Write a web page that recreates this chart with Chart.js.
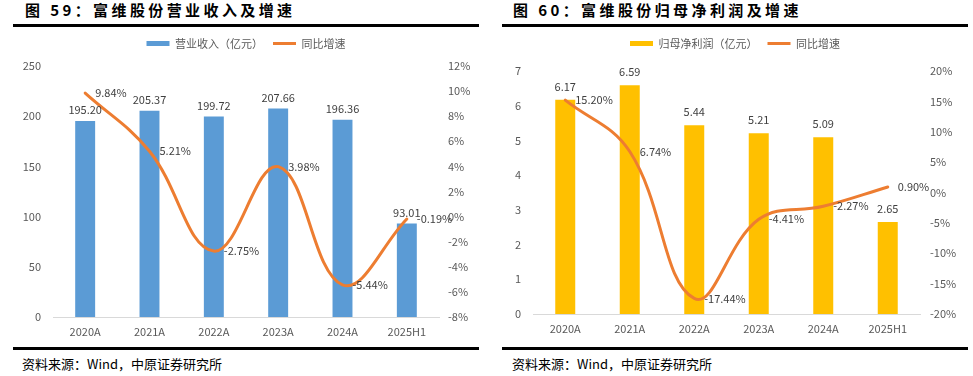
<!DOCTYPE html>
<html>
<head>
<meta charset="utf-8">
<script src="https://cdn.jsdelivr.net/npm/chart.js@4.4.1/dist/chart.umd.min.js"></script>
<style>
  html, body { margin:0; padding:0; background:#fff; }
  body { width:973px; height:376px; position:relative; overflow:hidden; font-family:"Noto Sans CJK SC", sans-serif; }
  .title { position:absolute; top:0px; font-size:15px; font-weight:700; letter-spacing:3.4px; line-height:20px; color:#000; white-space:nowrap; }
  .rule { position:absolute; height:3px; background:#000; }
  .src { position:absolute; top:355px; font-size:13px; line-height:18px; color:#000; white-space:nowrap; }
  canvas { position:absolute; }
</style>
</head>
<body>
<div class="title" style="left:25px;">图 59：富维股份营业收入及增速</div>
<div class="rule" style="left:13px; top:24px; width:466px;"></div>
<canvas id="c1" width="466" height="317" style="left:13px; top:28px;"></canvas>
<div class="rule" style="left:13px; top:347px; width:466px;"></div>
<div class="src" style="left:22px;">资料来源：Wind，中原证券研究所</div>

<div class="title" style="left:513px;">图 60：富维股份归母净利润及增速</div>
<div class="rule" style="left:502px; top:24px; width:466px;"></div>
<canvas id="c2" width="466" height="317" style="left:502px; top:28px;"></canvas>
<div class="rule" style="left:502px; top:347px; width:466px;"></div>
<div class="src" style="left:512px;">资料来源：Wind，中原证券研究所</div>

<script>
// ---- data ----
const categories = ['2020A', '2021A', '2022A', '2023A', '2024A', '2025H1'];
const revenue = [195.20, 205.37, 199.72, 207.66, 196.36, 93.01];
const revenueGrowth = [9.84, 5.21, -2.75, 3.98, -5.44, -0.19];
const profit = [6.17, 6.59, 5.44, 5.21, 5.09, 2.65];
const profitGrowth = [15.20, 6.74, -17.44, -4.41, -2.27, 0.90];

const revenueTicks = [0, 50, 100, 150, 200, 250];
const revenueGrowthTicks = [-8, -6, -4, -2, 0, 2, 4, 6, 8, 10, 12];
const profitTicks = [0, 1, 2, 3, 4, 5, 6, 7];
const profitGrowthTicks = [-20, -15, -10, -5, 0, 5, 10, 15, 20];

const revenueLabel = '营业收入（亿元）';
const profitLabel = '归母净利润（亿元）';
const growthLabel = '同比增速';

// ---- styling ----
const FONT = '"Noto Sans CJK SC", sans-serif';
Chart.defaults.font.family = FONT;
Chart.defaults.font.size = 11;
Chart.defaults.color = '#595959';

const valueLabels = {
  id: 'valueLabels',
  afterDatasetsDraw(chart, args, opts) {
    const ctx = chart.ctx;
    ctx.save();
    ctx.font = '11px ' + FONT;
    ctx.fillStyle = '#404040';
    ctx.textBaseline = 'middle';
    chart.data.datasets.forEach((ds, i) => {
      const meta = chart.getDatasetMeta(i);
      meta.data.forEach((el, j) => {
        const v = ds.data[j];
        if (ds.type === 'bar') {
          ctx.textAlign = 'center';
          ctx.fillText(v.toFixed(2), el.x, el.y - (opts.barOffset || 11));
        } else {
          ctx.textAlign = 'left';
          ctx.fillText(v.toFixed(2) + '%', el.x + 10, el.y);
        }
      });
    });
    ctx.restore();
  }
};

const legendGap = {
  id: 'legendGap',
  beforeLayout(chart, args, opts) {
    const lg = chart.legend;
    if (lg && !lg._gapPatched) {
      const orig = lg.fit;
      lg.fit = function () { orig.call(this); this.height += (opts.extra || 0); };
      lg._gapPatched = true;
    }
  }
};

function tickRange(arr) {
  return { min: arr[0], max: arr[arr.length - 1], stepSize: arr[1] - arr[0] };
}

function makeChart(id, barData, barLabel, barColor, lineData, leftTicks, rightTicks, dims) {
  const l = tickRange(leftTicks), r = tickRange(rightTicks);
  return new Chart(document.getElementById(id), {
    data: {
      labels: categories,
      datasets: [
        {
          type: 'bar', label: barLabel, data: barData, yAxisID: 'y',
          backgroundColor: barColor, borderWidth: 0,
          barPercentage: 0.31, categoryPercentage: 1, order: 2
        },
        {
          type: 'line', label: growthLabel, data: lineData, yAxisID: 'y1',
          borderColor: '#ED7D31', backgroundColor: '#ED7D31', borderWidth: 3,
          pointRadius: 0, tension: 0.4, borderCapStyle: 'round', order: 1
        }
      ]
    },
    options: {
      responsive: false,
      animation: false,
      layout: { padding: 0 },
      plugins: {
        tooltip: { enabled: false },
        legend: {
          position: 'top',
          labels: {
            usePointStyle: true, pointStyleWidth: 23, boxHeight: 5,
            padding: 10, color: '#595959', font: { size: 11 },
            sort: (a, b) => a.datasetIndex - b.datasetIndex,
            generateLabels(chart) {
              const items = Chart.defaults.plugins.legend.labels.generateLabels(chart);
              items.forEach(it => {
                const ds = chart.data.datasets[it.datasetIndex];
                if (ds.type === 'line') {
                  it.pointStyle = 'line'; it.lineWidth = 3; it.strokeStyle = ds.borderColor; it.lineCap = 'butt';
                } else {
                  it.pointStyle = 'rect'; it.lineWidth = 0; it.fillStyle = ds.backgroundColor;
                }
              });
              return items;
            }
          }
        },
        legendGap: { extra: dims.legendExtra },
        valueLabels: { barOffset: dims.barOffset }
      },
      scales: {
        x: {
          grid: { display: false, drawTicks: false },
          border: { display: true, color: '#D9D9D9', width: 1 },
          ticks: { padding: 8, color: '#595959', font: { size: 11 } },
          afterFit(s) { s.height = dims.xHeight; }
        },
        y: {
          position: 'left', min: l.min, max: l.max,
          grid: { display: false, drawTicks: false },
          border: { display: false },
          ticks: { stepSize: l.stepSize, padding: 12, color: '#595959', font: { size: 11 } },
          afterFit(s) { s.width = dims.yWidth; }
        },
        y1: {
          position: 'right', min: r.min, max: r.max,
          grid: { display: false, drawTicks: false },
          border: { display: false },
          ticks: { stepSize: r.stepSize, padding: dims.y1Pad, color: '#595959', font: { size: 11 },
                   callback: v => v + '%' },
          afterFit(s) { s.width = dims.y1Width; }
        }
      }
    },
    plugins: [valueLabels, legendGap]
  });
}

makeChart('c1', revenue, revenueLabel, '#5B9BD5', revenueGrowth, revenueTicks, revenueGrowthTicks,
  { yWidth: 40, y1Width: 40, y1Pad: 9, xHeight: 28, legendExtra: 7, barOffset: 11 });
makeChart('c2', profit, profitLabel, '#FFC000', profitGrowth, profitTicks, profitGrowthTicks,
  { yWidth: 31, y1Width: 48, y1Pad: 10, xHeight: 31, legendExtra: 12, barOffset: 13 });
</script>
</body>
</html>
